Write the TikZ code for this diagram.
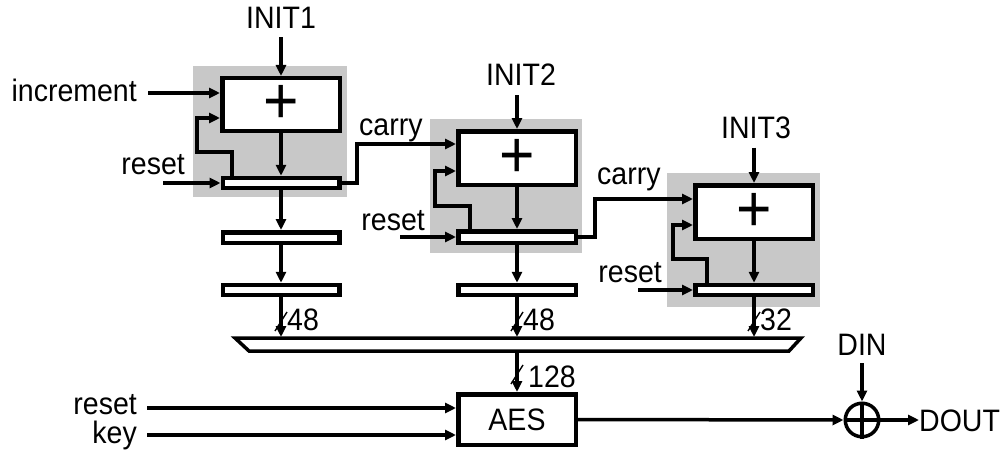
\documentclass[tikz,border=0pt]{standalone}
\usepackage{fontspec}
\setmainfont[FakeStretch=0.92]{Liberation Sans}
\usetikzlibrary{arrows.meta,calc}
\definecolor{bggray}{RGB}{200,200,200}
\begin{document}
\begin{tikzpicture}[x=1pt,y=-1pt,
  wire/.style={line width=3.5pt},
  arr/.style={wire,-{Triangle[length=11pt,width=10pt]}},
  box/.style={draw,line width=4.5pt,inner sep=0pt,fill=white},
  lbl/.style={inner sep=0pt,font=\fontsize{31}{32}\selectfont},
  plus/.style={inner sep=0pt,font=\fontsize{66}{66}\selectfont},
  bg/.style={fill=bggray,draw=none},
  slash/.style={line width=1.4pt}]
\useasboundingbox (0,0) rectangle (1007,452);

% gray backgrounds
\fill[bg] (193,66) rectangle (347,197);
\fill[bg] (430,119) rectangle (582,253);
\fill[bg] (667,173) rectangle (820,307);

% block 1
\node[box,minimum width=117.5pt,minimum height=52.5pt] (add1) at (281,104.5) {};
\node[plus] at (add1) {+};
\node[box,minimum width=116.5pt,minimum height=10pt] (reg1a) at (281,183) {};
\node[box,minimum width=116.5pt,minimum height=10.5pt] (reg1b) at (281,237.5) {};
\node[box,minimum width=116.5pt,minimum height=10pt] (reg1c) at (281,290) {};

% block 2
\node[box,minimum width=117.5pt,minimum height=53.5pt] (add2) at (517,158) {};
\node[plus] at (add2) {+};
\node[box,minimum width=117.5pt,minimum height=11.5pt] (reg2a) at (517,237) {};
\node[box,minimum width=117.5pt,minimum height=10pt] (reg2b) at (517,290) {};

% block 3
\node[box,minimum width=117.5pt,minimum height=53.5pt] (add3) at (754,212) {};
\node[plus] at (add3) {+};
\node[box,minimum width=117.5pt,minimum height=10pt] (reg3) at (754,290) {};

% AES
\node[box,minimum width=117.5pt,minimum height=50.5pt] (aes) at (517,419.5) {};
\node[lbl,anchor=base] (aestxt) at (517,430) {AES};

% xor
\node[draw,circle,line width=3.5pt,minimum size=33.5pt,inner sep=0pt] (xor) at (862,420) {};
\draw[wire] (xor.north) -- (xor.south);
\draw[wire] (xor.west) -- (xor.east);

% labels
\node[lbl,anchor=base] (init1) at (281,29) {INIT1};
\node[lbl,anchor=base] (init2) at (521,85) {INIT2};
\node[lbl,anchor=base] (init3) at (756,138) {INIT3};
\node[lbl,anchor=base east] (incr) at (137,102) {increment};
\node[lbl,anchor=base east] (rst1) at (185,174) {reset};
\node[lbl,anchor=base west] (carry1) at (359,135) {carry};
\node[lbl,anchor=base east] (rst2) at (425,230) {reset};
\node[lbl,anchor=base west] (carry2) at (597,184) {carry};
\node[lbl,anchor=base east] (rst3) at (662,282) {reset};
\node[lbl,anchor=base east] (rst4) at (137,414) {reset};
\node[lbl,anchor=base east] (key) at (137,443) {key};
\node[lbl,anchor=base] (din) at (862,355) {DIN};
\node[lbl,anchor=base west] (dout) at (919,431) {DOUT};
\node[lbl,anchor=base west] (w1) at (287,330) {48};
\node[lbl,anchor=base west] (w2) at (523,330) {48};
\node[lbl,anchor=base west] (w3) at (760,330) {32};
\node[lbl,anchor=base west] (w4) at (528,387) {128};

% free ends
\coordinate (incin) at (148,93);
\coordinate (r1in) at (163,183);
\coordinate (r2in) at (400,237);
\coordinate (r3in) at (638,290);
\coordinate (r4in) at (147,408);
\coordinate (kin) at (147,435);
\coordinate (c1y) at (0,144);
\coordinate (c2y) at (0,199);
\coordinate (f1y) at (0,118);
\coordinate (f2y) at (0,171);
\coordinate (f3y) at (0,225);
\coordinate (muxtop) at (0,337);
\coordinate (muxbot) at (0,352);

% mux
\draw[wire,fill=white] (235,338) -- (801,338) -- (789,351) -- (249,351) -- cycle;

% INIT arrows
\draw[arr,shorten <=8pt] (init1.south -| add1.north) -- (add1.north);
\draw[arr,shorten <=10pt] (init2.south -| add2.north) -- (add2.north);
\draw[arr,shorten <=9pt] (init3.south -| add3.north) -- (add3.north);

% inputs
\draw[arr] (incin) -- (incin -| add1.west);
\draw[arr] (r1in) -- (reg1a.west);
\draw[arr] (r2in) -- (reg2a.west);
\draw[arr] (r3in) -- (reg3.west);
\draw[arr] (r4in) -- (r4in -| aes.west);
\draw[arr] (kin) -- (kin -| aes.west);

% feedback loops
\draw[arr] ([xshift=-49pt]reg1a.north) |- (197,152) |- (add1.west |- f1y);
\draw[arr] ([xshift=-47pt]reg2a.north) |- (435,206) |- (add2.west |- f2y);
\draw[arr] ([xshift=-47pt]reg3.north) |- (673,259) |- (add3.west |- f3y);

% carry
\draw[arr] (reg1a.east) -- (357,183) |- (add2.west |- c1y);
\draw[arr] (reg2a.east) -- (595,237) |- (add3.west |- c2y);

% vertical chains
\draw[arr] (add1.south) -- (reg1a.north);
\draw[arr] (reg1a.south) -- (reg1b.north);
\draw[arr] (reg1b.south) -- (reg1c.north);
\draw[arr] (reg1c.south) -- (reg1c.south |- muxtop);
\draw[arr] (add2.south) -- (reg2a.north);
\draw[arr] (reg2a.south) -- (reg2b.north);
\draw[arr] (reg2b.south) -- (reg2b.south |- muxtop);
\draw[arr] (add3.south) -- (reg3.north);
\draw[arr] (reg3.south) -- (reg3.south |- muxtop);
\draw[arr] (aes.north |- muxbot) -- (aes.north);

% bus slashes
\draw[slash] (275,331) -- (287,312);
\draw[slash] (511,331) -- (523,312);
\draw[slash] (748,331) -- (760,312);
\draw[slash] (511,384) -- (523,365);

% output
\draw[arr] (aes.east) -- (xor.west);
\draw[arr,shorten <=8pt] (din.south -| xor.north) -- (xor.north);
\draw[arr] (xor.east) -- (xor.east -| dout.west);
\end{tikzpicture}
\end{document}
